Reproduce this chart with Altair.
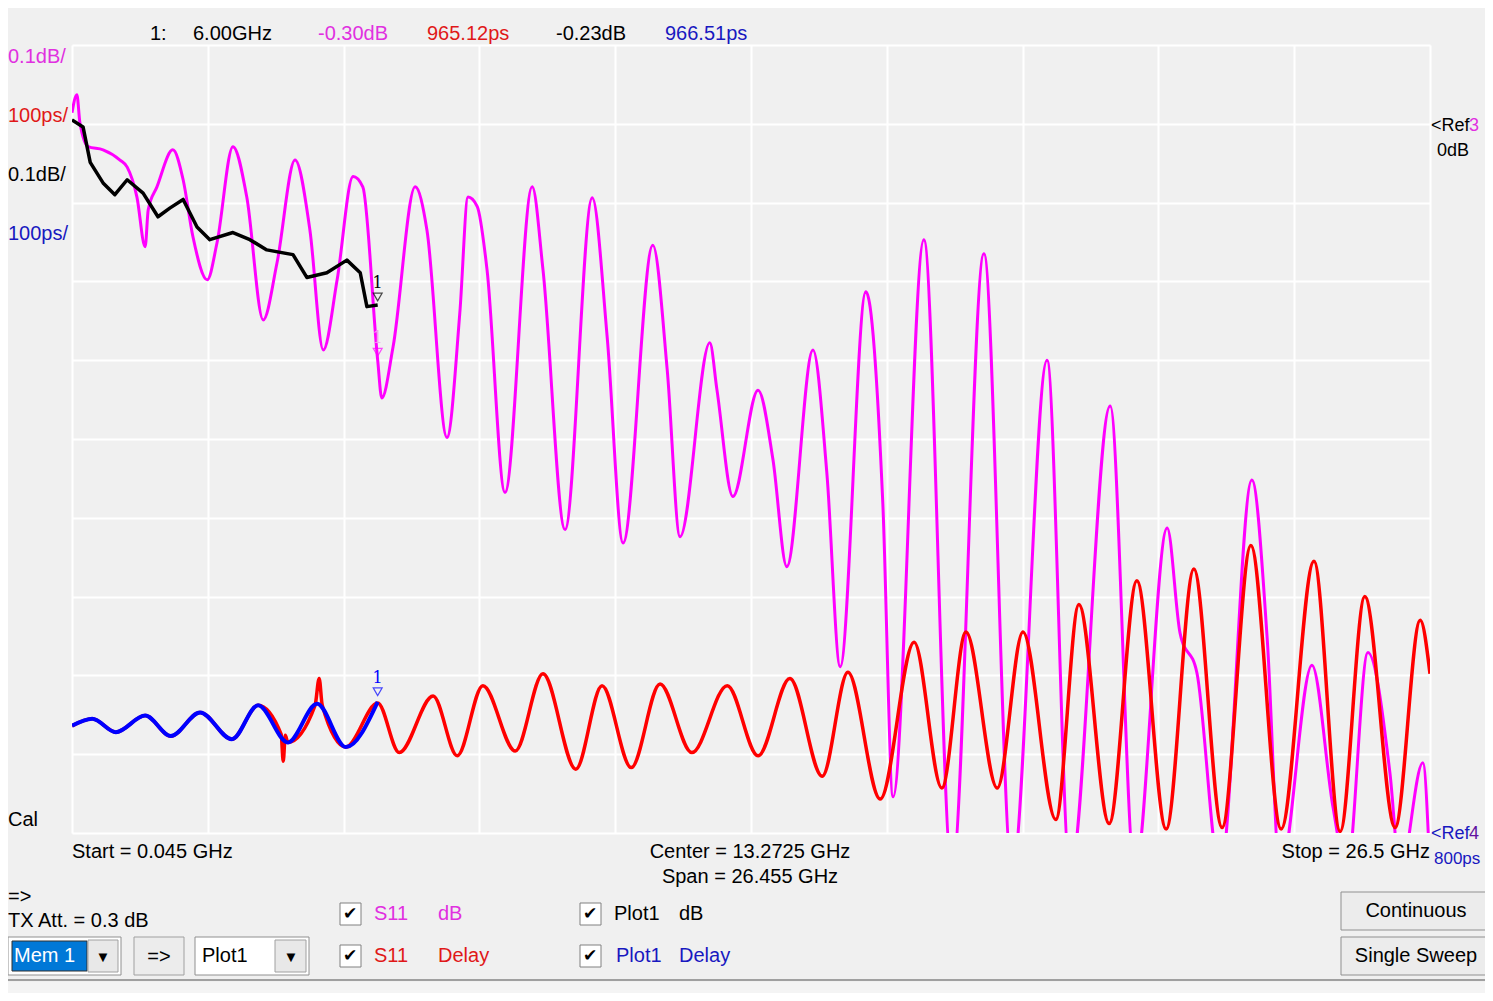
import altair as alt
import pandas as pd

# ---------------- data ----------------
# S11 dB (magenta), 0.1 dB/div, ref 0 dB
MAG_F = [0.045, 0.14, 0.20, 0.36, 0.65, 0.98, 1.12, 1.31, 1.47, 1.53, 1.70, 2.01, 2.21, 2.40, 2.68,
         2.87, 3.18, 3.45, 3.77, 4.04, 4.39, 4.68, 4.94, 5.21, 5.52, 5.71, 6.00, 6.08, 6.30, 6.73,
         6.96, 7.35, 7.60, 7.76, 7.94, 8.13, 8.48, 9.01, 9.22, 9.65, 10.18, 10.47, 10.78, 11.36,
         11.64, 11.89, 12.47, 12.61, 12.92, 13.41, 13.70, 13.97, 14.48, 14.75, 15.01, 15.51, 15.84,
         16.04, 16.64, 17.19, 17.81, 18.36, 19.04, 19.49, 20.27, 20.75, 21.38, 21.63, 21.96, 22.41,
         23.03, 23.33, 23.58, 24.20, 24.61, 24.88, 25.29, 25.72, 25.92, 26.36, 26.50]
MAG_DB = [0.014, 0.037, 0.001, -0.029, -0.033, -0.046, -0.055, -0.093, -0.156, -0.109, -0.080,
          -0.033, -0.071, -0.143, -0.198, -0.151, -0.029, -0.093, -0.249, -0.176, -0.046, -0.135,
          -0.287, -0.198, -0.067, -0.080, -0.30, -0.348, -0.283, -0.080, -0.135, -0.398, -0.240,
          -0.093, -0.105, -0.185, -0.468, -0.080, -0.185, -0.515, -0.094, -0.270, -0.532, -0.154,
          -0.312, -0.524, -0.278, -0.338, -0.473, -0.338, -0.426, -0.562, -0.287, -0.443, -0.689,
          -0.213, -0.481, -0.854, -0.147, -0.95, -0.165, -0.95, -0.300, -0.95, -0.358, -0.95,
          -0.513, -0.646, -0.697, -0.95, -0.452, -0.655, -0.95, -0.687, -0.867, -0.95, -0.671,
          -0.824, -0.95, -0.811, -0.95]

# S11 Delay (red), 100 ps/div, ref 800 ps
RED_F = [0.045, 0.44, 0.90, 1.47, 1.97, 2.54, 3.16, 3.67, 4.12, 4.16, 4.20, 4.25, 4.78, 4.86, 4.92,
         5.38, 6.00, 6.42, 7.08, 7.55, 8.05, 8.68, 9.22, 9.86, 10.37, 10.94, 11.50, 12.12, 12.81,
         13.41, 14.03, 14.66, 15.16, 15.79, 16.45, 16.99, 17.46, 18.07, 18.57, 19.21, 19.66, 20.25,
         20.79, 21.36, 21.90, 22.45, 23.01, 23.60, 24.24, 24.75, 25.23, 25.82, 26.31, 26.50]
RED_PS = [936, 945, 928, 949, 923, 953, 919, 962, 925, 891, 924, 915, 962, 996, 962, 909, 965, 902,
          974, 898, 987, 904, 1002, 881, 987, 883, 989, 902, 987, 898, 996, 872, 1004, 843, 1042,
          857, 1055, 857, 1055, 817, 1090, 812, 1120, 805, 1135, 807, 1165, 805, 1145, 802, 1100,
          807, 1070, 1002]

# Plot1 dB (black)
BLK_F = [0.045, 0.26, 0.40, 0.65, 0.88, 1.12, 1.43, 1.72, 1.95, 2.21, 2.48, 2.73, 3.18, 3.51, 3.84,
         4.35, 4.62, 5.01, 5.40, 5.66, 5.79, 6.00]
BLK_DB = [0.005, -0.004, -0.049, -0.075, -0.090, -0.071, -0.088, -0.118, -0.107, -0.096, -0.131,
          -0.147, -0.138, -0.147, -0.160, -0.166, -0.195, -0.189, -0.173, -0.189, -0.232, -0.23]

# Plot1 Delay (blue)
BLU_F = [0.045, 0.44, 0.90, 1.47, 1.97, 2.54, 3.16, 3.67, 4.25, 4.82, 5.38, 6.00]
BLU_PS = [936, 945, 928, 949, 923, 953, 919, 962, 915, 964, 909, 966.5]

# marker 1
MARKER_F = 6.00
MARKER_MAG_DB = -0.30
MARKER_RED_PS = 965.12
MARKER_BLK_DB = -0.23
MARKER_BLU_PS = 966.51

F_START, F_STOP = 0.045, 26.5
DB_RANGE = [-0.9, 0.1]
PS_RANGE = [800, 1800]

# ---------------- layout helpers ----------------
FONT = "Liberation Sans"
X0, Y0 = 72, 45          # plot-area origin on the page
W, H = 1358, 788
BG = "#f0f0f0"
dummy = pd.DataFrame({"d": [0]})


def txt(s, x, y, color="#000000", align="left", size=20, weight="normal"):
    return alt.Chart(dummy).mark_text(
        text=s, align=align, baseline="middle", fontSize=size, font=FONT,
        color=color, fontWeight=weight
    ).encode(x=alt.value(x - X0), y=alt.value(y - Y0))


def box(x1, y1, x2, y2, fill, stroke=None, sw=1):
    kw = dict(fill=fill)
    if stroke:
        kw.update(stroke=stroke, strokeWidth=sw)
    return alt.Chart(dummy).mark_rect(**kw).encode(
        x=alt.value(x1 - X0), x2=alt.value(x2 - X0),
        y=alt.value(y1 - Y0), y2=alt.value(y2 - Y0))


def hline(x1, x2, y, color, sw=1):
    return alt.Chart(dummy).mark_rule(color=color, strokeWidth=sw).encode(
        x=alt.value(x1 - X0), x2=alt.value(x2 - X0), y=alt.value(y - Y0))


xs = alt.Scale(domain=[F_START, F_STOP], nice=False, zero=False)
xgrid = [F_START + (F_STOP - F_START) * k / 10 for k in range(11)]
xaxis = alt.Axis(values=xgrid, grid=True, gridColor="white", gridWidth=2, labels=False,
                 ticks=False, domain=False, title=None)
db_scale = alt.Scale(domain=DB_RANGE, nice=False, zero=False)
ps_scale = alt.Scale(domain=PS_RANGE, nice=False, zero=False)
ygrid = [DB_RANGE[0] + (DB_RANGE[1] - DB_RANGE[0]) * k / 10 for k in range(11)]
yaxis = alt.Axis(values=ygrid, grid=True, gridColor="white", gridWidth=2, labels=False,
                 ticks=False, domain=False, title=None)

df_mag = pd.DataFrame({"f": MAG_F, "v": MAG_DB})
df_red = pd.DataFrame({"f": RED_F, "v": RED_PS})
df_blk = pd.DataFrame({"f": BLK_F, "v": BLK_DB})
df_blu = pd.DataFrame({"f": BLU_F, "v": BLU_PS})

mag = alt.Chart(df_mag).mark_line(color="#ff00ff", strokeWidth=3, clip=True,
                                  interpolate="monotone").encode(
    x=alt.X("f:Q", scale=xs, axis=xaxis), y=alt.Y("v:Q", scale=db_scale, axis=yaxis))
red = alt.Chart(df_red).mark_line(color="#ff0000", strokeWidth=3.5, clip=True,
                                  interpolate="monotone").encode(
    x=alt.X("f:Q", scale=xs, axis=xaxis), y=alt.Y("v:Q", scale=ps_scale, axis=None))
blk = alt.Chart(df_blk).mark_line(color="#000000", strokeWidth=3.5, clip=True,
                                  strokeJoin="round").encode(
    x=alt.X("f:Q", scale=xs, axis=xaxis), y=alt.Y("v:Q", scale=db_scale, axis=None))
blu = alt.Chart(df_blu).mark_line(color="#0000ff", strokeWidth=4, clip=True,
                                  interpolate="monotone").encode(
    x=alt.X("f:Q", scale=xs, axis=xaxis), y=alt.Y("v:Q", scale=ps_scale, axis=None))


def marker(value, scale, color, off, num_color):
    d = pd.DataFrame({"f": [MARKER_F], "v": [value]})
    tri = alt.Chart(d).mark_point(shape="triangle-down", filled=False, color=color, size=80,
                                  strokeWidth=1.2, yOffset=off).encode(
        x=alt.X("f:Q", scale=xs, axis=xaxis), y=alt.Y("v:Q", scale=scale, axis=None))
    num = alt.Chart(d).mark_text(text="1", fontSize=16, font="DejaVu Serif", color=num_color,
                                 dy=off - 14).encode(
        x=alt.X("f:Q", scale=xs, axis=xaxis), y=alt.Y("v:Q", scale=scale, axis=None))
    return [tri, num]


markers = (marker(MARKER_BLK_DB, db_scale, "#000000", -8, "#000000")
           + marker(MARKER_MAG_DB, db_scale, "#ff00ff", -8, "#f0a0f0")
           + marker(MARKER_BLU_PS, ps_scale, "#0000ff", -10, "#0000ff"))

MAGT = "#e030e0"
REDT = "#e01818"
BLUT = "#1818c0"

texts = [
    # marker readout
    txt("1:", 150, 34), txt(f"{MARKER_F:.2f}GHz", 193, 34),
    txt(f"{MARKER_MAG_DB:.2f}dB", 318, 34, MAGT), txt(f"{MARKER_RED_PS:.2f}ps", 427, 34, REDT),
    txt(f"{MARKER_BLK_DB:.2f}dB", 556, 34), txt(f"{MARKER_BLU_PS:.2f}ps", 665, 34, BLUT),
    # scale labels
    txt("0.1dB/", 8, 57, MAGT), txt("100ps/", 8, 116, REDT),
    txt("0.1dB/", 8, 175), txt("100ps/", 8, 234, BLUT),
    txt("Cal", 8, 820),
    # reference labels
    txt("<Ref", 1431, 126, size=18), txt("3", 1469, 126, MAGT, size=18),
    txt("0dB", 1437, 151, size=18),
    txt("<Ref", 1431, 834, BLUT, size=18), txt("4", 1469, 834, "#6010a0", size=18),
    txt("800ps", 1434, 859, BLUT, size=17),
    # frequency labels
    txt(f"Start = {F_START:g} GHz", 72, 852),
    txt("Center = 13.2725 GHz", 750, 852, align="center"),
    txt("Span = 26.455 GHz", 750, 877, align="center"),
    txt(f"Stop = {F_STOP:g} GHz", 1430, 852, align="right"),
    # controls
    txt("=>", 8, 897), txt("TX Att.  = 0.3 dB", 8, 921),
]

ui = [
    hline(0, 1500, 980, "#a0a0a0", 2),
    box(0, 982, 1500, 1001, "#f4f4f4"),
    # Mem 1 combo
    box(8, 937, 121, 975, "white", "#909090"),
    box(12, 941, 87, 971, "#0078d7", "#303030"),
    txt("Mem 1", 14, 956, "white"),
    box(88, 940, 118, 972, "#e8e8e8", "#a0a0a0"),
    txt("▼", 103, 957, size=15, align="center"),
    # => button
    box(134, 937, 184, 975, "#ececec", "#a0a0a0"),
    txt("=>", 159, 957, align="center"),
    # Plot1 combo
    box(195, 937, 309, 975, "white", "#909090"),
    txt("Plot1", 202, 956),
    box(275, 940, 306, 972, "#e8e8e8", "#a0a0a0"),
    txt("▼", 291, 957, size=15, align="center"),
    # checkboxes
    box(340, 903, 361, 925, "white", "#808080"), txt("✔", 350, 914, size=17, align="center"),
    box(340, 945, 361, 967, "white", "#808080"), txt("✔", 350, 956, size=17, align="center"),
    box(580, 903, 601, 925, "white", "#808080"), txt("✔", 590, 914, size=17, align="center"),
    box(580, 945, 601, 967, "white", "#808080"), txt("✔", 590, 956, size=17, align="center"),
    txt("S11", 374, 914, MAGT), txt("dB", 438, 914, MAGT),
    txt("S11", 374, 956, REDT), txt("Delay", 438, 956, REDT),
    txt("Plot1", 614, 914), txt("dB", 679, 914),
    txt("Plot1", 616, 956, BLUT), txt("Delay", 679, 956, BLUT),
    # buttons
    box(1341, 892, 1492, 930, "#ececec", "#909090"),
    txt("Continuous", 1416, 911, align="center"),
    box(1341, 937, 1492, 975, "#ececec", "#909090"),
    txt("Single Sweep", 1416, 956, align="center"),
]

chart = alt.layer(mag, red, blk, blu, *markers, *texts, *ui).resolve_scale(
    y="independent"
).properties(
    width=W, height=H, background=BG,
    padding={"left": X0 - 8, "top": Y0 - 8, "right": 55, "bottom": 160},
    autosize=alt.AutoSizeParams(type="none"),
).configure_view(stroke=None)

chart.save("out.html", embed_options={"renderer": "svg", "actions": False})
